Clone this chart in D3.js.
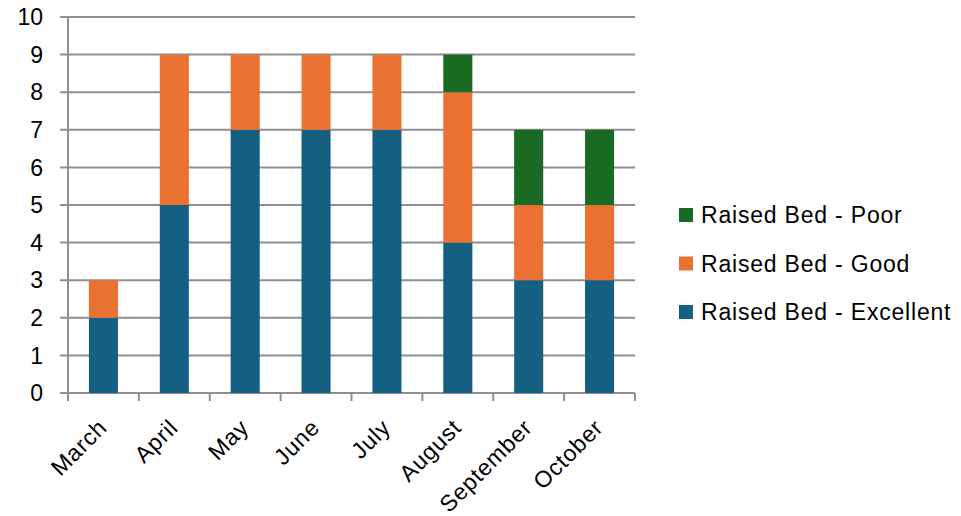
<!DOCTYPE html>
<html><head><meta charset="utf-8">
<script src="https://cdn.jsdelivr.net/npm/d3@7"></script>
<style>body{margin:0;background:#fff}svg{display:block;font-family:"Liberation Sans",Arial,sans-serif}</style>
</head><body><svg id="c" width="961" height="516"></svg>
<script>
const months = ["March","April","May","June","July","August","September","October"];
const excellent = [2,5,7,7,7,4,3,3];
const good = [1,4,2,2,2,4,2,2];
const poor = [0,0,0,0,0,1,2,2];
const seriesNames = ["Raised Bed - Excellent","Raised Bed - Good","Raised Bed - Poor"];
const colors = ["#156082","#E97132","#196B24"];
const yTicks = [0,1,2,3,4,5,6,7,8,9,10];

const svg = d3.select("#c");
const L = 68, R = 635, T = 17, B = 393;
const x = d3.scaleBand().domain(months).range([L, R]).paddingInner(0.59).paddingOuter(0.295);
const y = d3.scaleLinear().domain([0,10]).range([B, T]);
const grid = "#8f8f8f";
const fs = 23;

// gridlines
svg.append("g").selectAll("line").data(yTicks).join("line")
  .attr("x1", L - 8).attr("x2", R).attr("y1", d => y(d)).attr("y2", d => y(d))
  .attr("stroke", grid).attr("stroke-width", 2);
// y axis line
svg.append("line").attr("x1", L).attr("x2", L).attr("y1", T).attr("y2", B + 8)
  .attr("stroke", grid).attr("stroke-width", 2);
// y labels
svg.append("g").selectAll("text").data(yTicks).join("text")
  .attr("x", 43).attr("y", d => y(d)).attr("dy", "0.36em").attr("text-anchor", "end")
  .attr("font-size", fs).attr("fill", "#000").text(d => d);

// x axis category ticks
const tickPos = d3.range(months.length + 1).map(i => L + i * (R - L) / months.length);
svg.append("g").selectAll("line").data(tickPos).join("line")
  .attr("x1", d => d).attr("x2", d => d).attr("y1", B).attr("y2", B + 8)
  .attr("stroke", grid).attr("stroke-width", 2);

// stacked bars
const data = months.map((m, i) => ({month: m, e: excellent[i], g: good[i], p: poor[i]}));
const stack = d3.stack().keys(["e","g","p"])(data);
svg.append("g").selectAll("g").data(stack).join("g")
  .attr("fill", (d, i) => colors[i])
  .selectAll("rect").data(d => d.filter(v => v[1] > v[0])).join("rect")
  .attr("x", d => x(d.data.month)).attr("width", x.bandwidth())
  .attr("y", d => y(d[1])).attr("height", d => y(d[0]) - y(d[1]));

// x labels
svg.append("g").selectAll("text").data(months).join("text")
  .attr("text-anchor", "end").attr("font-size", fs).attr("fill", "#000")
  .attr("letter-spacing", 0.8)
  .attr("transform", d => `translate(${x(d) + x.bandwidth() / 2 + 5},${B + 36}) rotate(-45)`)
  .text(d => d);

// legend
const legendOrder = [2,1,0];
const lg = svg.append("g").selectAll("g").data(legendOrder).join("g")
  .attr("transform", (d, i) => `translate(679,${215 + i * 48.5})`);
lg.append("rect").attr("x", 0).attr("y", -7).attr("width", 14).attr("height", 14).attr("fill", d => colors[d]);
lg.append("text").attr("x", 22).attr("y", 0).attr("dy", "0.36em").attr("font-size", fs).attr("fill", "#000")
  .attr("letter-spacing", 0.8)
  .text(d => seriesNames[d]);
</script></body></html>
